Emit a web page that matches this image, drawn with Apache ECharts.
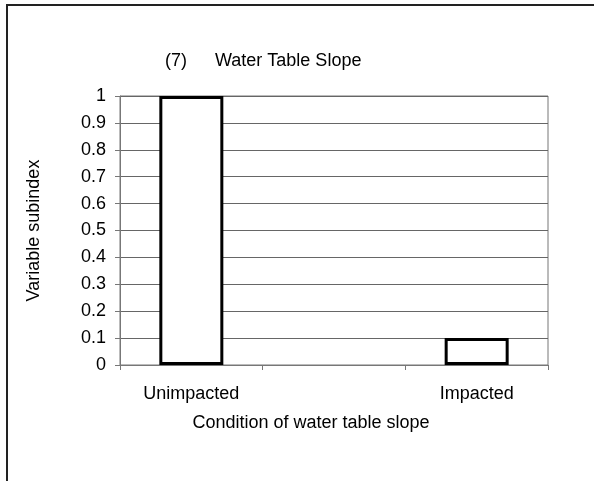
<!DOCTYPE html>
<html>
<head>
<meta charset="utf-8">
<script src="https://cdn.jsdelivr.net/npm/echarts@6/dist/echarts.min.js"></script>
<style>
  html, body { margin: 0; padding: 0; background: #ffffff; }
  #chart { width: 594px; height: 481px; }
</style>
</head>
<body>
<div id="chart"></div>
<script>
  // condition categories (middle slot is empty in the original)
  const categories = ['Unimpacted', '', 'Impacted'];
  const subindex = [1, null, 0.1];
  const yTicks = [0, 0.1, 0.2, 0.3, 0.4, 0.5, 0.6, 0.7, 0.8, 0.9, 1];

  const font = '"Liberation Sans", Arial, sans-serif';
  const fs = 18;
  const myChart = echarts.init(document.getElementById('chart'));

  const option = {
    backgroundColor: '#ffffff',
    animation: false,
    textStyle: { fontFamily: font, color: '#000' },
    title: [
      { text: '(7)', left: 165, top: 52, padding: 0, textStyle: { fontFamily: font, fontSize: fs, fontWeight: 'normal', color: '#000' } },
      { text: 'Water Table Slope', left: 215, top: 52, padding: 0, textStyle: { fontFamily: font, fontSize: fs, fontWeight: 'normal', color: '#000' } }
    ],
    graphic: [
      {
        type: 'rect',
        shape: { x: 7, y: 5, width: 700, height: 600 },
        style: { fill: 'none', stroke: '#222', lineWidth: 2 },
        silent: true
      }
    ],
    grid: {
      left: 120,
      right: 46,
      top: 96,
      bottom: 116,
      show: true,
      borderColor: '#777',
      borderWidth: 1
    },
    xAxis: {
      type: 'category',
      data: categories,
      axisLine: { lineStyle: { color: '#777', width: 1 } },
      axisTick: { show: true, length: 5, lineStyle: { color: '#777' } },
      axisLabel: { margin: 20, fontSize: fs, color: '#000', fontFamily: font },
      name: 'Condition of water table slope',
      nameLocation: 'middle',
      nameGap: 49,
      nameTextStyle: { fontSize: fs, color: '#000', fontFamily: font, padding: [0, 46, 0, 0] }
    },
    yAxis: {
      type: 'value',
      min: 0,
      max: 1,
      interval: 0.1,
      axisLine: { show: true, lineStyle: { color: '#777', width: 1 } },
      axisTick: { show: true, length: 5, lineStyle: { color: '#777' } },
      axisLabel: {
        margin: 14,
        fontSize: fs,
        color: '#000',
        fontFamily: font,
        formatter: function (v) {
          const t = yTicks.find(x => Math.abs(x - v) < 1e-9);
          return t === undefined ? '' : String(t);
        }
      },
      splitLine: { show: true, lineStyle: { color: '#666', width: 1 } },
      name: 'Variable subindex',
      nameLocation: 'middle',
      nameGap: 77,
      nameTextStyle: { fontSize: fs, color: '#000', fontFamily: font }
    },
    series: [
      {
        type: 'bar',
        data: subindex,
        barWidth: 64,
        itemStyle: { color: '#ffffff', borderColor: '#000', borderWidth: 3 },
        silent: true
      }
    ]
  };

  myChart.setOption(option);
</script>
</body>
</html>
